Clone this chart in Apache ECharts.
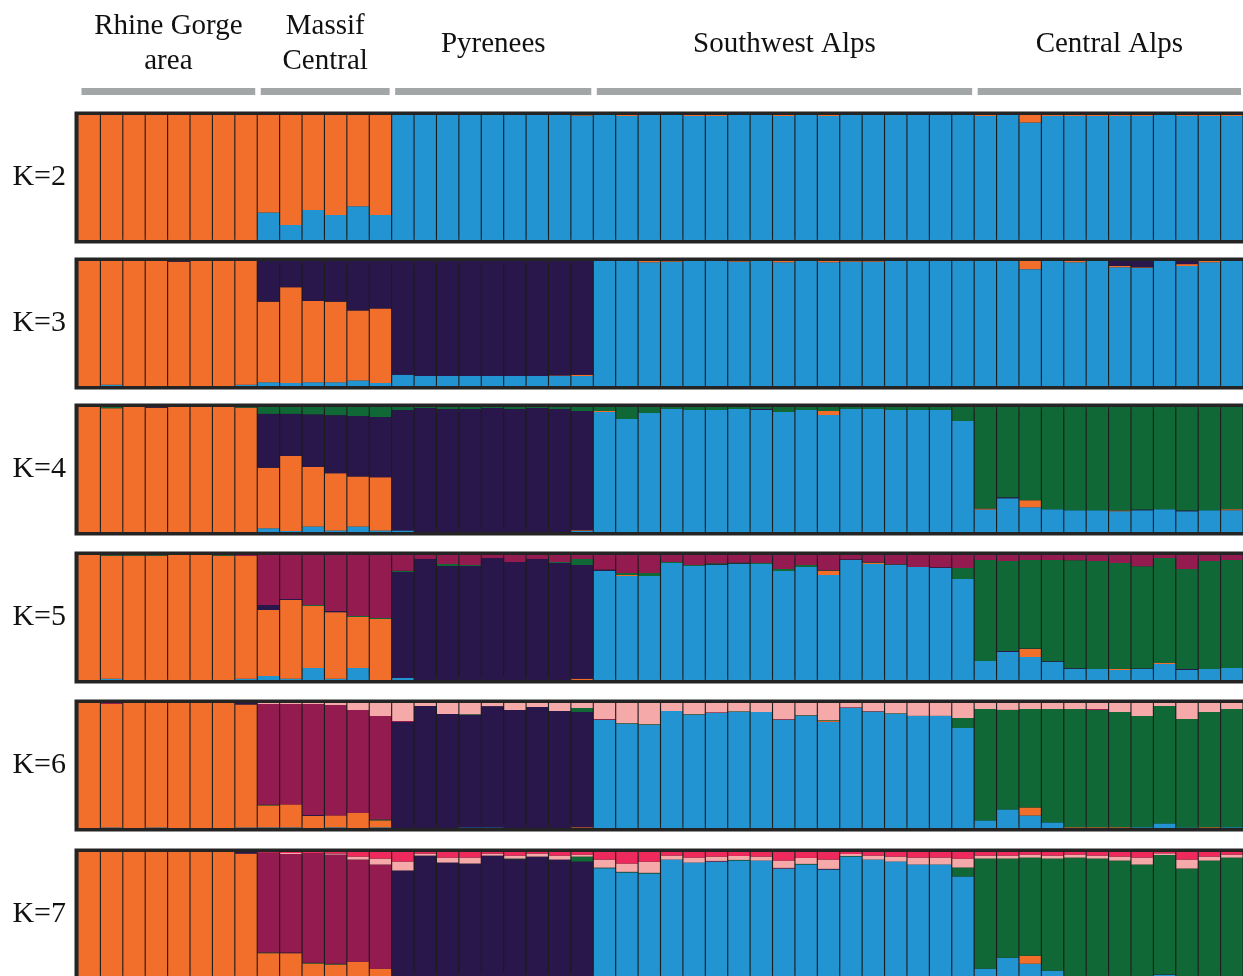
<!DOCTYPE html>
<html>
<head>
<meta charset="utf-8">
<script src="https://cdn.jsdelivr.net/npm/echarts@6.0.0/dist/echarts.min.js"></script>
<style>
html, body { margin: 0; padding: 0; background: #fff; }
#main { width: 1243px; height: 976px; }
</style>
</head>
<body>
<div id="main"></div>
<script>
// groups of individuals (left to right)
var groupNames = ['Rhine Gorge\narea', 'Massif\nCentral', 'Pyrenees', 'Southwest Alps', 'Central Alps'];
var groupSizes = [8, 6, 9, 17, 12];

// ancestry proportions, one value per individual
// order inside each array: Rhine | Massif | Pyrenees | SW Alps | Central Alps
var k2Blue = [0,0,0,0,0,0,0,0,
  .22,.12,.24,.20,.27,.20,
  1,1,1,1,1,1,1,1,.995,
  1,.992,1,1,.992,.992,1,1,.992,1,.992,1,1,1,1,1,1,
  .992,1,.94,.992,.992,.992,.992,.992,1,.992,.992,.992];
var k2Orange = [1,1,1,1,1,1,1,1,
  .78,.88,.76,.80,.73,.80,
  0,0,0,0,0,0,0,0,.005,
  0,.008,0,0,.008,.008,0,0,.008,0,.008,0,0,0,0,0,0,
  .008,0,.06,.008,.008,.008,.008,.008,0,.008,.008,.008];

var k3Blue = [0,.01,0,0,0,0,0,.01,
  .03,.025,.03,.03,.045,.025,
  .09,.08,.08,.08,.08,.08,.08,.08,.08,
  1,1,.99,.995,1,1,.995,1,.99,1,.99,.995,.995,1,1,1,1,
  1,1,.935,1,.99,1,.95,.945,1,.96,.99,1];
var k3Orange = [1,.99,1,1,.995,1,1,.99,
  .645,.765,.65,.645,.56,.595,
  0,0,0,0,0,0,0,.005,.01,
  0,0,.01,.005,0,0,.005,0,.01,0,.01,.005,.005,0,0,0,0,
  0,0,.065,0,.01,0,.01,.005,0,.015,.01,0];
var k3Purple = [0,0,0,0,.005,0,0,0,
  .325,.21,.32,.325,.395,.38,
  .91,.92,.92,.92,.92,.92,.92,.915,.91,
  0,0,0,0,0,0,0,0,0,0,0,0,0,0,0,0,0,
  0,0,0,0,0,0,.04,.05,0,.025,0,0];

var k4Blue = [0,0,0,0,0,0,0,0,
  .03,.008,.045,.013,.045,.013,
  .013,0,0,0,0,0,0,0,.008,
  .96,.904,.952,.984,.976,.976,.984,.976,.96,.976,.936,.984,.984,.976,.976,.976,.888,
  .18,.27,.198,.182,.174,.174,.166,.174,.182,.166,.174,.174];
var k4Orange = [1,.99,1,.995,1,1,1,.995,
  .485,.6,.476,.457,.40,.425,
  0,0,0,0,0,0,0,0,.006,
  .008,0,0,0,0,0,0,0,0,0,.032,0,0,0,0,0,0,
  .008,0,.056,0,0,0,.006,0,0,0,0,.008];
var k4Purple = [0,0,0,.005,0,0,0,0,
  .43,.337,.42,.465,.483,.482,
  .963,.992,.984,.984,.992,.984,.992,.984,.954,
  0,0,0,0,0,0,0,.008,0,0,0,0,0,0,0,0,0,
  0,.008,0,0,0,0,0,.006,0,.006,0,0];
var k4Green = [0,.01,0,0,0,0,0,.005,
  .055,.055,.059,.065,.072,.08,
  .024,.008,.016,.016,.008,.016,.008,.016,.032,
  .032,.096,.048,.016,.024,.024,.016,.016,.04,.024,.032,.016,.016,.024,.024,.024,.112,
  .812,.722,.746,.818,.826,.826,.828,.82,.818,.828,.826,.818];

var k5Blue = [0,.01,0,0,0,0,0,.01,
  .032,.01,.096,.01,.096,0,
  .016,0,0,0,0,0,0,0,0,
  .875,.832,.832,.936,.912,.92,.928,.928,.872,.904,.84,.96,.928,.92,.904,.896,.808,
  .152,.224,.184,.144,.088,.088,.08,.088,.128,.08,.088,.096];
var k5Orange = [1,.985,.995,.995,1,1,.995,.982,
  .528,.63,.496,.533,.408,.488,
  0,0,0,0,0,0,0,0,.01,
  0,.008,0,0,0,0,0,0,0,0,.032,0,.008,0,0,0,0,
  0,0,.064,0,0,0,.008,0,.008,0,0,0];
var k5Purple = [0,0,0,0,0,0,0,0,
  .04,.008,0,.01,0,0,
  .848,.968,.912,.912,.976,.944,.968,.936,.91,
  .008,0,0,0,0,.005,.005,0,0,0,0,.005,0,0,0,.006,0,
  0,.008,.005,.006,.006,0,0,.005,0,.008,0,0];
var k5Green = [0,.005,.005,.005,0,0,.005,0,
  0,0,.008,0,.008,.008,
  .01,0,.016,.008,0,0,0,.008,.048,
  0,.016,.024,.008,.008,.008,.005,.008,.016,.016,.005,0,.005,.005,0,0,.088,
  .808,.72,.707,.81,.864,.864,.848,.817,.84,.8,.864,.864];
var k5Magenta = [0,0,0,0,0,0,0,.008,
  .40,.352,.40,.447,.488,.504,
  .126,.032,.072,.08,.024,.056,.032,.056,.032,
  .117,.144,.144,.056,.08,.067,.062,.064,.112,.08,.123,.035,.059,.075,.096,.098,.104,
  .04,.048,.04,.04,.042,.048,.064,.09,.024,.112,.048,.04];

var k6Blue = [0,.005,0,.005,0,0,0,.005,
  .005,.005,0,.005,0,.005,
  0,0,0,.005,.005,0,0,0,0,
  .865,.833,.825,.936,.905,.92,.928,.928,.865,.897,.849,.96,.928,.912,.897,.897,.8,
  .061,.149,.1,.045,0,0,0,.006,.037,.005,0,.006];
var k6Orange = [1,.987,1,.995,1,1,1,.983,
  .176,.184,.096,.096,.12,.056,
  0,0,0,0,0,0,0,0,.006,
  0,0,0,0,0,0,0,0,0,0,.008,0,0,0,0,0,0,
  0,0,.064,0,.006,.006,.006,0,0,0,.006,0];
var k6Purple = [0,0,0,0,0,0,0,.012,
  0,0,.008,0,0,0,
  .848,.976,.912,.9,.97,.944,.968,.936,.922,
  0,0,0,0,0,0,0,0,0,0,0,0,.005,0,0,0,0,
  0,0,0,0,0,0,0,0,0,0,0,0];
var k6Green = [0,0,0,0,0,0,0,0,
  .006,0,0,0,0,.008,
  0,0,0,.005,0,0,0,0,.032,
  0,.005,.005,0,.005,0,.005,0,0,.005,.005,0,0,.005,0,0,.08,
  .891,.796,.788,.907,.946,.938,.922,.89,.939,.867,.922,.946];
var k6Magenta = [0,.008,0,0,0,0,0,0,
  .805,.803,.888,.883,.824,.827,
  .008,0,0,0,0,0,0,0,0,
  .006,0,0,0,0,.005,0,0,.005,0,0,.005,0,0,0,0,0,
  0,0,0,0,0,.008,0,0,0,0,0,0];
var k6Pink = [0,0,0,0,0,0,0,0,
  .008,.008,.008,.016,.056,.104,
  .144,.024,.088,.09,.025,.056,.032,.064,.04,
  .129,.162,.17,.064,.09,.075,.067,.072,.13,.098,.138,.035,.067,.083,.103,.103,.12,
  .048,.055,.048,.048,.048,.048,.072,.104,.024,.128,.072,.048];

var k7Blue = [0,0,0,0,0,0,0,0,
  0,0,0,0,0,0,
  0,0,0,0,0,0,0,0,0,
  .869,.835,.827,.939,.915,.923,.931,.931,.867,.899,.859,.963,.939,.923,.899,.899,.803,
  .059,.147,.099,.043,0,0,0,0,.008,0,0,0];
var k7Orange = [1,1,1,1,1,1,1,.987,
  .184,.184,.101,.093,.115,.059,
  0,0,0,0,0,0,0,0,0,
  0,0,0,0,0,0,0,0,0,0,0,0,0,0,0,0,0,
  0,0,.064,0,0,0,0,0,0,0,0,0];
var k7Purple = [0,0,0,0,0,0,0,.013,
  0,.005,0,0,0,0,
  .851,.971,.915,.907,.971,.942,.963,.939,.923,
  0,0,0,0,0,0,0,0,0,0,.005,0,0,0,0,0,0,
  0,0,0,0,0,0,0,0,.005,0,0,0];
var k7Green = [0,0,0,0,0,0,0,0,
  .005,0,.005,.005,0,0,
  0,0,0,0,0,.005,0,0,.04,
  .005,.005,.005,0,0,0,.005,0,0,.005,0,.005,0,0,0,0,.072,
  .888,.8,.792,.904,.955,.947,.931,.899,.963,.867,.931,.955];
var k7Magenta = [0,0,0,0,0,0,0,0,
  .806,.795,.886,.881,.824,.84,
  0,0,0,0,0,0,0,0,0,
  0,0,0,0,0,.005,0,0,.005,0,0,0,0,0,0,0,0,
  0,0,0,0,0,0,0,0,0,0,0,0];
var k7Pink = [0,0,0,0,0,0,0,0,
  0,.008,0,.008,.024,.048,
  .072,.016,.04,.048,.016,.024,.024,.032,.016,
  .065,.067,.09,.032,.04,.035,.032,.032,.059,.048,.075,.016,.032,.04,.056,.056,.072,
  .024,.024,.024,.024,.024,.024,.032,.056,.013,.072,.032,.024];
var k7Red = [0,0,0,0,0,0,0,0,
  .005,.008,.008,.013,.037,.053,
  .077,.013,.045,.045,.013,.029,.013,.029,.021,
  .061,.093,.078,.029,.045,.037,.032,.037,.069,.048,.061,.016,.029,.037,.045,.045,.053,
  .029,.029,.021,.029,.021,.029,.037,.045,.011,.061,.037,.021];

var clusterColors = {
  blue: '#2394d2', orange: '#f26f2b', purple: '#29174b', green: '#116837',
  magenta: '#931b50', pink: '#f6a9a9', red: '#ee2a5d'
};

// stacking order is bottom -> top
var panels = [
  { label: 'K=2', parts: [['blue', k2Blue], ['orange', k2Orange]] },
  { label: 'K=3', parts: [['blue', k3Blue], ['orange', k3Orange], ['purple', k3Purple]] },
  { label: 'K=4', parts: [['blue', k4Blue], ['orange', k4Orange], ['purple', k4Purple], ['green', k4Green]] },
  { label: 'K=5', parts: [['blue', k5Blue], ['orange', k5Orange], ['purple', k5Purple], ['green', k5Green], ['magenta', k5Magenta]] },
  { label: 'K=6', parts: [['blue', k6Blue], ['orange', k6Orange], ['purple', k6Purple], ['green', k6Green], ['magenta', k6Magenta], ['pink', k6Pink]] },
  { label: 'K=7', parts: [['blue', k7Blue], ['orange', k7Orange], ['purple', k7Purple], ['green', k7Green], ['magenta', k7Magenta], ['pink', k7Pink], ['red', k7Red]] }
];

// individual ids and group start/end indexes
var sampleIds = [];
var groupRanges = [];
groupSizes.forEach(function (n, g) {
  var start = sampleIds.length;
  for (var i = 0; i < n; i++) sampleIds.push('g' + g + '_' + (i + 1));
  groupRanges.push([start, sampleIds.length - 1]);
});

var chart = echarts.init(document.getElementById('main'));

var plotLeft = 78, plotWidth = 1167;
var panelTops = [115, 261, 407, 555, 703, 852];
var panelHeight = 125;
var serif = '"Liberation Serif", "DejaVu Serif", serif';

var grids = [{ left: plotLeft, width: plotWidth, top: 88, height: 7 }];
var xAxes = [{ type: 'category', gridIndex: 0, data: sampleIds, show: false }];
var yAxes = [{ type: 'value', gridIndex: 0, min: 0, max: 1, show: false }];
var series = [{
  type: 'custom',
  xAxisIndex: 0,
  yAxisIndex: 0,
  data: groupRanges,
  renderItem: function (params, api) {
    var s = api.coord([api.value(0), 0]);
    var e = api.coord([api.value(1), 0]);
    var band = api.size([1, 0])[0];
    var x0 = s[0] - band / 2 + 3.5;
    var x1 = e[0] + band / 2 - 2;
    var cs = params.coordSys;
    return {
      type: 'group',
      children: [
        { type: 'rect', shape: { x: x0, y: cs.y, width: x1 - x0, height: cs.height }, style: { fill: '#a3a6a6' } },
        { type: 'text', style: {
          text: groupNames[params.dataIndex], x: (x0 + x1) / 2, y: cs.y - 44,
          align: 'center', verticalAlign: 'middle', fontSize: 29, lineHeight: 35,
          fontFamily: serif, fill: '#111'
        } }
      ]
    };
  }
}];

panels.forEach(function (p, i) {
  var gi = i + 1;
  grids.push({
    left: plotLeft, width: plotWidth, top: panelTops[i], height: panelHeight,
    show: true, backgroundColor: '#1c1c1c', borderColor: '#242424', borderWidth: 7
  });
  xAxes.push({ type: 'category', gridIndex: gi, data: sampleIds, show: false });
  yAxes.push({
    type: 'value', gridIndex: gi, min: 0, max: 1,
    axisLine: { show: false }, axisTick: { show: false }, axisLabel: { show: false }, splitLine: { show: false },
    name: p.label, nameLocation: 'middle', nameRotate: 0, nameGap: 12,
    nameTextStyle: { fontSize: 30, fontFamily: serif, color: '#111' }
  });
  p.parts.forEach(function (part) {
    series.push({
      type: 'bar', name: p.label + ' ' + part[0], stack: 'k' + i,
      xAxisIndex: gi, yAxisIndex: gi,
      data: part[1],
      barCategoryGap: '5%',
      itemStyle: { color: clusterColors[part[0]] }
    });
  });
});

chart.setOption({
  animation: false,
  backgroundColor: '#fff',
  grid: grids,
  xAxis: xAxes,
  yAxis: yAxes,
  series: series
});
</script>
</body>
</html>
